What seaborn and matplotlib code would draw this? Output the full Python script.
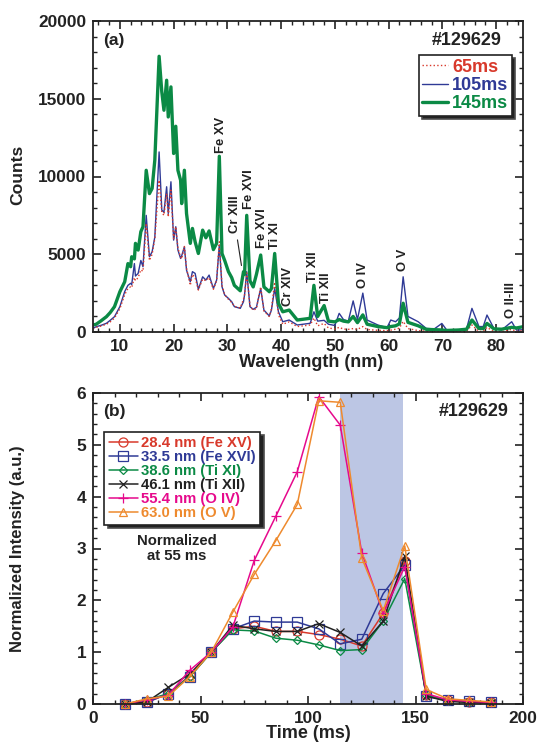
import pandas as pd
import matplotlib
matplotlib.use('Agg')
import matplotlib.pyplot as plt
from matplotlib.ticker import MultipleLocator
import seaborn as sns

# spectrum
wavelength = [5, 5.6, 6.5, 7.5, 8.2, 9, 10, 10.9, 11.5, 12,
              12.2, 12.7, 12.9, 13.4, 13.9, 14.3, 14.9, 15.5, 16, 16.5,
              17.3, 17.8, 18.2, 18.7, 19, 19.5, 20, 20.4, 20.8, 21.3,
              21.5, 22, 22.4, 23.1, 23.5, 24, 24.6, 25.4, 26, 26.6,
              27.4, 28, 28.5, 29, 29.5, 30.2, 30.8, 31.3, 32.4, 33,
              33.2, 33.6, 34.2, 34.8, 35.4, 36.2, 36.8, 37.8, 38.2, 38.8,
              39.5, 40.3, 41.5, 43, 45.4, 46.1, 46.8, 48, 48.8, 50,
              50.8, 51.6, 52.5, 53.4, 54.2, 55.2, 56, 58, 59.7, 60.4,
              61.3, 62, 62.7, 63.6, 65.5, 67, 68.5, 69.9, 70.8, 73,
              74.5, 75.5, 76.8, 77.6, 78.3, 79.6, 81, 82.9, 83.8, 85]
counts_65 = [200, 300, 380, 500, 650, 900, 1500, 2400, 2800, 2900,
             2850, 3500, 3300, 3500, 4000, 3900, 6980, 4600, 5000, 6000,
             9760, 7700, 7500, 8900, 7400, 9120, 6000, 6770, 5400, 4800,
             4700, 5500, 4100, 3000, 3700, 3500, 2700, 3400, 3300, 3500,
             2750, 3300, 5800, 3000, 2400, 2100, 1900, 1650, 1550, 2100,
             2400, 3800, 1700, 1400, 1500, 2900, 1350, 1000, 1500, 3200,
             1100, 500, 650, 350, 450, 900, 400, 550, 260, 190,
             300, 190, 170, 220, 170, 350, 160, 110, 90, 120,
             180, 250, 680, 220, 90, 50, 40, 40, 30, 20,
             40, 450, 40, 30, 300, 20, 20, 170, 40, 80]
counts_105 = [250, 340, 430, 560, 750, 985, 1630, 2600, 3000, 3130,
              3050, 4400, 3600, 3770, 4600, 4200, 7500, 4840, 5160, 6100,
              11580, 7840, 7700, 9340, 7620, 9660, 5910, 6770, 5270, 4730,
              4900, 5480, 3980, 3230, 3880, 3770, 2740, 3550, 3340, 3660,
              2800, 3340, 5590, 2910, 2380, 2160, 1950, 1630, 1520, 1950,
              2400, 3880, 1630, 1460, 1585, 2800, 1410, 1030, 1410, 2800,
              1300, 660, 770, 450, 560, 1300, 700, 750, 500, 420,
              1200, 800, 700, 2000, 800, 2500, 770, 450, 280, 770,
              660, 900, 3550, 1000, 660, 230, 200, 550, 130, 90,
              200, 1520, 350, 350, 1090, 220, 120, 660, 120, 150]
counts_145 = [450, 500, 720, 985, 1250, 1630, 2590, 3230, 4400, 4200,
              4840, 4700, 5700, 5270, 6450, 6770, 10400, 8900, 9230, 11050,
              17730, 15440, 14260, 16190, 13830, 15760, 11480, 13230, 10400, 9760,
              8260, 10400, 7620, 5700, 6660, 5800, 5050, 6550, 6060, 6500,
              5300, 5700, 11300, 5050, 4600, 3880, 3500, 3000, 2650, 3880,
              3700, 7500, 3300, 2900, 3700, 4950, 2900, 2590, 2800, 5050,
              1840, 1300, 1410, 770, 880, 3000, 1000, 1700, 700, 650,
              800, 700, 650, 1000, 600, 1100, 500, 350, 280, 350,
              400, 520, 1850, 620, 400, 170, 150, 130, 100, 130,
              180, 770, 230, 220, 550, 200, 180, 300, 260, 340]

# time traces
time_ms = [15, 25, 35, 45, 55, 65, 75, 85, 95, 105, 115, 125, 135, 145, 155, 165, 175, 185]
fe_xv = [0, .03, .2, .55, 1, 1.45, 1.5, 1.4, 1.4, 1.34, 1.25, 1.12, 1.75, 2.75, .17, .07, .04, .03]
fe_xvi = [0, .03, .2, .53, 1, 1.45, 1.6, 1.58, 1.58, 1.45, 1.16, 1.25, 2.13, 2.68, .15, .07, .05, .03]
ti_xi = [0, .08, .2, .52, 1, 1.43, 1.41, 1.27, 1.23, 1.14, 1.03, 1.05, 1.6, 2.42, .17, .06, .04, .03]
ti_xii = [0, .04, .32, .58, 1, 1.52, 1.45, 1.4, 1.4, 1.55, 1.38, 1.12, 1.6, 2.85, .15, .05, .03, .02]
o_iv = [0, .08, .17, .65, 1, 1.48, 2.77, 3.62, 4.48, 5.93, 5.38, 2.92, 1.75, 2.65, .2, .08, .05, .03]
o_v = [0, .1, .15, .53, 1, 1.77, 2.5, 3.15, 3.85, 5.85, 5.82, 2.82, 1.8, 3.05, .28, .1, .07, .04]

# line ids: label, wavelength, height of the text bottom
line_ids = [('Fe XV', 28.8, 11530), ('Cr XIII', 31.4, 6370), ('Fe XVI', 34.0, 7900), ('Fe XVI', 36.4, 5400),
            ('Ti XI', 38.9, 5350), ('Cr XIV', 41.3, 1670), ('Ti XII', 45.9, 3240), ('Ti XII', 48.4, 1870),
            ('O IV', 55.3, 2830), ('O V', 62.7, 3950), ('O II-III', 82.7, 900)]

RED, BLUE, GREEN = '#d8392b', '#2f3a96', '#0b8a45'
BLACK, PINK, ORANGE = '#222222', '#e6098c', '#ee8a2e'

sns.set_style('ticks')
plt.rcParams['font.family'] = ['Liberation Sans', 'DejaVu Sans']
plt.rcParams['font.weight'] = 'bold'
plt.rcParams['axes.labelweight'] = 'bold'
plt.rcParams['axes.edgecolor'] = '#222222'
plt.rcParams['text.color'] = '#222222'
plt.rcParams['axes.labelcolor'] = '#222222'
plt.rcParams['xtick.color'] = '#222222'
plt.rcParams['ytick.color'] = '#222222'

fig = plt.figure(figsize=(5.38, 7.45), dpi=100)
ax1 = fig.add_axes([93 / 538, 1 - 332 / 745, 430 / 538, 311 / 745])
ax2 = fig.add_axes([93 / 538, 1 - 704 / 745, 430 / 538, 311 / 745])


def style_axes(ax):
    ax.tick_params(which='major', direction='in', length=6, width=1.2, top=True, right=True, labelsize=12.4, pad=5)
    ax.tick_params(which='minor', direction='in', length=3, width=1, top=True, right=True)
    for side in ax.spines.values():
        side.set_linewidth(1.3)


def shadow_legend(ax, **kwargs):
    leg = ax.legend(frameon=True, fancybox=False, framealpha=1, edgecolor='#222222', labelcolor='linecolor',
                    shadow={'facecolor': '#222222', 'alpha': 1, 'ox': 2.5, 'oy': -2.5}, borderaxespad=0, **kwargs)
    leg.get_frame().set_linewidth(1.2)
    return leg


# panel (a)
sns.lineplot(x=wavelength, y=counts_105, ax=ax1, color=BLUE, lw=1.0, label='105ms')
sns.lineplot(x=wavelength, y=counts_65, ax=ax1, color=RED, lw=1.0, ls=':', label='65ms')
sns.lineplot(x=wavelength, y=counts_145, ax=ax1, color=GREEN, lw=2.4, label='145ms')
ax1.set_xlim(5, 85)
ax1.set_ylim(0, 20000)
ax1.xaxis.set_major_locator(MultipleLocator(10))
ax1.xaxis.set_minor_locator(MultipleLocator(2))
ax1.yaxis.set_major_locator(MultipleLocator(5000))
ax1.yaxis.set_minor_locator(MultipleLocator(1000))
ax1.set_xlabel('Wavelength (nm)', fontsize=13)
ax1.set_ylabel('Counts', fontsize=12.6)
ax1.xaxis.set_label_coords(0.507, -0.07)
ax1.yaxis.set_label_coords(-0.158, 0.505)
style_axes(ax1)
for name, x, y in line_ids:
    ax1.text(x, y, name, rotation=90, ha='center', va='bottom', fontsize=9.4)
ax1.annotate('', xy=(32.7, 4100), xytext=(31.8, 6100), arrowprops=dict(arrowstyle='-', lw=0.8, color='#222222'))
ax1.text(0.023, 0.936, '(a)', transform=ax1.transAxes, fontsize=12.5, va='center')
ax1.text(0.951, 0.936, '#129629', transform=ax1.transAxes, fontsize=13, ha='right', va='center')
handles, labels = ax1.get_legend_handles_labels()
order = [1, 0, 2]
leg1 = shadow_legend(ax1, handles=[handles[i] for i in order], labels=[labels[i] for i in order],
                     loc='upper right', bbox_to_anchor=(0.974, 0.891), fontsize=13, labelspacing=0.08,
                     handlelength=1.45, handletextpad=0.2, borderpad=0.2)

# panel (b)
ax2.axvspan(115, 144, facecolor='#bcc6e4', edgecolor='none', zorder=0)
traces = pd.DataFrame({'time': time_ms, '28.4 nm (Fe XV)': fe_xv, '33.5 nm (Fe XVI)': fe_xvi, '38.6 nm (Ti XI)': ti_xi,
                       '46.1 nm (Ti XII)': ti_xii, '55.4 nm (O IV)': o_iv, '63.0 nm (O V)': o_v})
trace_styles = [('28.4 nm (Fe XV)', RED, 'o', 6.5), ('33.5 nm (Fe XVI)', BLUE, 's', 6.5), ('38.6 nm (Ti XI)', GREEN, 'D', 4.2),
                ('46.1 nm (Ti XII)', BLACK, 'x', 6), ('55.4 nm (O IV)', PINK, '+', 7.5), ('63.0 nm (O V)', ORANGE, '^', 5.5)]
for name, col, mark, size in trace_styles:
    sns.lineplot(data=traces, x='time', y=name, ax=ax2, color=col, lw=1.1, marker=mark, ms=size, mfc='none',
                 mec=col, mew=0.9, label=name, clip_on=False)
ax2.set_xlim(0, 200)
ax2.set_ylim(0, 6)
ax2.xaxis.set_major_locator(MultipleLocator(50))
ax2.xaxis.set_minor_locator(MultipleLocator(10))
ax2.yaxis.set_major_locator(MultipleLocator(1))
ax2.yaxis.set_minor_locator(MultipleLocator(0.2))
ax2.set_xlabel('Time (ms)', fontsize=13)
ax2.set_ylabel('Normalized Intensity (a.u.)', fontsize=12)
ax2.xaxis.set_label_coords(0.5, -0.068)
ax2.yaxis.set_label_coords(-0.158, 0.5)
style_axes(ax2)
ax2.text(0.023, 0.942, '(b)', transform=ax2.transAxes, fontsize=12.5, va='center')
ax2.text(0.967, 0.942, '#129629', transform=ax2.transAxes, fontsize=13, ha='right', va='center')
ax2.text(39, 3.0, 'Normalized\nat 55 ms', fontsize=10.7, ha='center', va='center', linespacing=1.05)
leg2 = shadow_legend(ax2, loc='upper left', bbox_to_anchor=(0.026, 0.875), fontsize=10.7, labelspacing=0.0,
                     handlelength=2.0, handletextpad=0.2, borderpad=0.3)

fig.savefig('out.png', dpi=100)
